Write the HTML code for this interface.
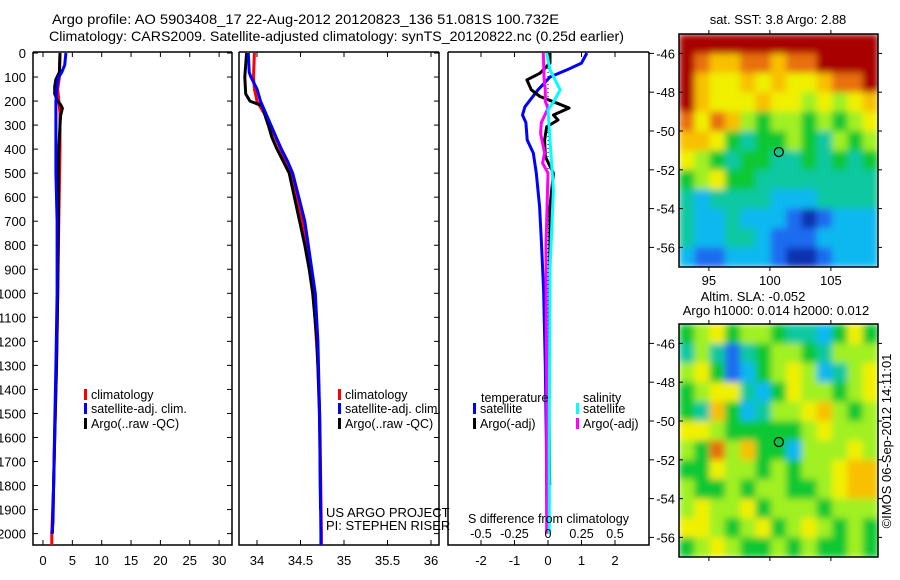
<!DOCTYPE html>
<html><head><meta charset="utf-8"><style>
html,body{margin:0;padding:0;background:#fff;}
svg{display:block;font-family:"Liberation Sans",sans-serif;}
</style></head><body>
<svg id="fig" width="900" height="580" viewBox="0 0 900 580" xmlns="http://www.w3.org/2000/svg">
<defs>
<filter id="smooth" x="0" y="0" width="1" height="1"><feGaussianBlur stdDeviation="3.5" edgeMode="duplicate"/></filter>
<clipPath id="clip1"><rect x="679" y="34" width="199" height="233"/></clipPath>
<clipPath id="clip2"><rect x="679" y="324" width="199" height="233"/></clipPath>
</defs>
<text x="52" y="24" font-size="14" textLength="507" lengthAdjust="spacingAndGlyphs">Argo profile: AO 5903408_17 22-Aug-2012 20120823_136 51.081S 100.732E</text>
<text x="49" y="41" font-size="14" textLength="575" lengthAdjust="spacingAndGlyphs">Climatology: CARS2009. Satellite-adjusted climatology: synTS_20120822.nc (0.25d earlier)</text>
</svg>
<script>
// ---- data ----
const depthTicks=[0,100,200,300,400,500,600,700,800,900,1000,1100,1200,1300,1400,1500,1600,1700,1800,1900,2000];
const tTicks=[0,5,10,15,20,25,30];
const sTicks=[34,34.5,35,35.5,36];
const dTicks=[-2,-1,0,1,2];
const dsTickLabels=["-0.5","-0.25","0","0.25","0.5"];
// Temperature panel
const tClimDepth=[0,100,150,250,400,700,1000,1300,1600,1800,2000,2050];
const tClim=[2.9,2.8,2.5,2.9,2.9,2.7,2.5,2.3,2.0,1.8,1.5,1.5];
const tSatDepth=[0,50,80,100,130,200,350,500,700,1000,1300,1550,1800,1950,2000];
const tSat=[3.9,3.7,3.2,2.7,2.4,2.2,2.2,2.2,2.4,2.4,2.2,2.0,1.8,1.7,1.5];
const tArgoDepth=[0,80,110,140,170,200,215,230,260,300,400,500,700,1000,1300,1600,1800,2000];
const tArgo=[2.9,2.8,2.2,2.0,2.0,2.5,3.0,3.3,3.0,2.9,2.7,2.6,2.6,2.5,2.3,2.0,1.8,1.6];
// Salinity panel
const sClimDepth=[0,100,150,200,250,300,400,500,600,700,800,1000,1300,1600,2000,2050];
const sClim=[33.97,33.96,33.97,34.0,34.08,34.15,34.27,34.39,34.46,34.52,34.57,34.65,34.7,34.725,34.74,34.74];
const sSatDepth=[0,80,100,150,200,250,300,350,400,450,500,600,700,800,900,1000,1200,1500,2000,2050];
const sSat=[33.9,33.91,33.93,34.0,34.04,34.1,34.16,34.22,34.28,34.35,34.41,34.48,34.55,34.59,34.63,34.67,34.7,34.72,34.735,34.735];
const sArgoDepth=[0,100,170,200,220,280,300,350,400,450,500,600,700,800,900,1000,1200,1500,1900];
const sArgo=[33.88,33.86,33.87,33.92,34.06,34.11,34.13,34.17,34.23,34.3,34.37,34.43,34.49,34.55,34.6,34.64,34.69,34.72,34.73];
// Difference panel
const dTSatDepth=[0,42,70,100,153,224,258,290,362,416,500,640,778,986,1300,1600,2000];
const dTSat=[1.16,1.0,0.57,0.06,-0.3,-0.69,-0.76,-0.66,-0.62,-0.44,-0.35,-0.25,-0.2,-0.13,-0.08,-0.05,-0.03];
const dTArgoDepth=[0,42,84,112,153,181,209,229,258,279,307,362,431,500,640,1000,1500,1800];
const dTArgo=[0.06,0.06,-0.24,-0.63,-0.5,-0.24,0.27,0.63,0.16,0.3,-0.04,-0.1,-0.08,0.16,0.06,0.05,0.03,0.05];
const dSSatDepth=[0,70,153,195,237,362,570,900,1500,2000];
const dSSat=[-0.01,0.015,0.09,0.05,0.0,0.015,0.04,0.015,0.01,0.01];
const dSArgoDepth=[0,100,153,201,230,290,335,416,458,500,800,1500,2000];
const dSArgo=[-0.035,-0.03,-0.02,-0.02,0.0,-0.05,-0.055,-0.025,-0.04,0.0,-0.015,-0.01,-0.01];
// Maps (rows lat -45..-57, cols lon 92.55..108.9), colour index 0..9
const sstGrid=[
[9,9,9,9,9,9,9,9,9,9,9,9,9],
[9,8,7,7,8,8,7,8,8,9,9,9,9],
[9,7,6,6,7,6,7,6,6,7,8,8,9],
[9,7,6,6,6,7,6,6,5,6,5,6,7],
[8,6,8,7,5,4,5,5,4,5,4,5,6],
[7,7,6,4,3,4,4,5,4,3,5,4,5],
[6,5,4,3,4,4,3,3,4,3,4,3,4],
[4,5,6,4,4,3,3,3,3,3,3,3,3],
[3,2,3,3,3,3,2,2,2,3,3,3,3],
[3,2,2,3,2,2,2,1,0,1,2,2,2],
[3,2,2,3,3,2,1,1,1,2,2,2,2],
[2,1,1,2,2,2,1,0,0,1,2,2,2]];
const slaGrid=[
[4,5,6,4,5,5,4,3,3,2,4,6,4],
[3,5,3,1,3,4,5,5,4,3,5,5,5],
[5,6,4,1,2,4,5,6,5,2,3,5,6],
[4,5,6,6,3,2,4,6,5,5,4,5,6],
[4,3,7,4,2,3,5,5,6,7,5,4,5],
[6,6,5,4,4,4,4,4,5,6,5,5,5],
[5,4,8,5,7,4,4,2,5,5,5,6,5],
[4,4,6,5,5,4,5,4,5,5,6,7,7],
[5,4,4,5,4,5,5,4,4,5,6,7,7],
[5,6,5,5,6,4,5,5,5,4,5,5,5],
[6,6,5,4,5,6,4,5,6,5,4,5,4],
[4,5,6,5,4,4,5,4,5,4,4,5,4]];
const latTicks=[-46,-48,-50,-52,-54,-56];
const lonTicks=[95,100,105];
const argoLon=[100.732];
const argoLat=[-51.081];
const palette=["#1030b0","#1a6cf0","#10b8f0","#10c8a0","#10c830","#a0f020","#f0f000","#f8c000","#e87010","#a80000"];

// ---- helpers ----
const NS="http://www.w3.org/2000/svg";
const svg=document.getElementById('fig');
function el(tag,attrs,parent){const e=document.createElementNS(NS,tag);for(const k in attrs)e.setAttribute(k,attrs[k]);(parent||svg).appendChild(e);return e;}
function txt(s,x,y,size,anchor,parent){const t=el('text',{x:x,y:y,'font-size':size,'text-anchor':anchor||'start'},parent);t.textContent=s;return t;}
const yD=d=>53+0.2403*d;
const PB=545;
const xT=v=>43+5.87*v;
const xS=v=>257+87*(v-34);
const xDT=v=>548+33.5*v;
const xDS=v=>548+134*v;

function panel(name,x0,x1){
  const g=el('g',{});
  
  
  el('polyline',{points:`${x0},52 ${x0},${PB} ${x1},${PB} ${x1},52`,fill:'none',stroke:'#000','stroke-width':1.5},g);
  el('line',{x1:x0,y1:52,x2:x1,y2:52,stroke:'#000','stroke-width':1.5},g);
  return g;
}
function series(g,name,depths,vals,xf,color,w,dash){
  const pts=depths.map((d,i)=>`${xf(vals[i]).toFixed(1)},${Math.min(yD(d),PB).toFixed(1)}`).join(' ');
  const p=el('polyline',{points:pts,fill:'none',stroke:color,'stroke-width':w||3,'stroke-linejoin':'round'},g);
  if(dash)p.setAttribute('stroke-dasharray',dash);
  
  
}
function legend(g,x,y,color,label){
  el('rect',{x:x,y:y-9,width:3,height:11,fill:color},g);
  const t=txt(label,x+7,y+1,12.5,'start',g);
  
  
}

// depth axis labels
const yax=el('g',{});


depthTicks.forEach(d=>{txt(String(d),26,yD(d)+5,13,'end',yax);});

// panel 1 temperature
const p1=panel('temperature-panel',33,232);
depthTicks.forEach(d=>{el('line',{x1:33,y1:yD(d),x2:38,y2:yD(d),stroke:'#000'},p1);el('line',{x1:227,y1:yD(d),x2:232,y2:yD(d),stroke:'#000'},p1);});
tTicks.forEach(v=>{el('line',{x1:xT(v),y1:PB,x2:xT(v),y2:PB-5,stroke:'#000'},p1);el('line',{x1:xT(v),y1:52,x2:xT(v),y2:57,stroke:'#000'},p1);txt(String(v),xT(v),565,13,'middle',p1);});
series(p1,'temp-climatology-line',tClimDepth,tClim,xT,'#f00',3);
series(p1,'temp-argo-line',tArgoDepth,tArgo,xT,'#000',3);
series(p1,'temp-satellite-line',tSatDepth,tSat,xT,'#00f',3);
legend(p1,84,398,'#f00','climatology');
legend(p1,84,412,'#00f','satellite-adj. clim.');
legend(p1,84,427,'#000','Argo(..raw -QC)');

// panel 2 salinity
const p2=panel('salinity-panel',239,439);
depthTicks.forEach(d=>{el('line',{x1:434,y1:yD(d),x2:439,y2:yD(d),stroke:'#000'},p2);});
sTicks.forEach(v=>{el('line',{x1:xS(v),y1:PB,x2:xS(v),y2:PB-5,stroke:'#000'},p2);el('line',{x1:xS(v),y1:52,x2:xS(v),y2:57,stroke:'#000'},p2);txt(String(v),xS(v),565,13,'middle',p2);});
series(p2,'sal-climatology-line',sClimDepth,sClim,xS,'#f00',3);
series(p2,'sal-argo-line',sArgoDepth,sArgo,xS,'#000',3);
series(p2,'sal-satellite-line',sSatDepth,sSat,xS,'#00f',3);
legend(p2,338,398,'#f00','climatology');
legend(p2,338,412,'#00f','satellite-adj. clim.');
legend(p2,338,427,'#000','Argo(..raw -QC)');
txt('US ARGO PROJECT',326,517,13,'start',p2);
txt('PI: STEPHEN RISER',326,530,13,'start',p2);

// panel 3 differences
const p3=panel('difference-panel',448,649);
dTicks.forEach(v=>{el('line',{x1:xDT(v),y1:PB,x2:xDT(v),y2:PB-5,stroke:'#000'},p3);el('line',{x1:xDT(v),y1:52,x2:xDT(v),y2:57,stroke:'#000'},p3);txt(String(v),xDT(v),565,13,'middle',p3);});
latTicks.forEach(l=>{const y=34+(-45-l)*19.4;el('line',{x1:649,y1:y,x2:654,y2:y,stroke:'#000'},p3);});
latTicks.forEach(l=>{const y=324+(-45-l)*19.4;el('line',{x1:649,y1:y,x2:654,y2:y,stroke:'#000'},p3);});
el('line',{x1:548,y1:60,x2:548,y2:420,stroke:'#000','stroke-dasharray':'1,3'},p3);
series(p3,'dT-satellite-line',dTSatDepth,dTSat,xDT,'#00f',3);
series(p3,'dT-argo-line',dTArgoDepth,dTArgo,xDT,'#000',3);
series(p3,'dS-argo-line',dSArgoDepth,dSArgo,xDS,'#f0f',3);
series(p3,'dS-satellite-line',dSSatDepth,dSSat,xDS,'#0ff',3);
txt('temperature',481,402,12.5,'start',p3);
txt('salinity',583,402,12.5,'start',p3);
legend(p3,473,412,'#00f','satellite');
legend(p3,473,427,'#000','Argo(-adj)');
legend(p3,576,412,'#0ff','satellite');
legend(p3,576,427,'#f0f','Argo(-adj)');
txt('S difference from climatology',468,523,12.5,'start',p3);
dTicks.forEach((v,i)=>{txt(dsTickLabels[i],xDT(v),538,12.5,'middle',p3);});

// maps
function map(name,grid,top,lonLabels,clipId){
  const g=el('g',{});
  
  
  const L=679,R=878,B=top+233,cw=(R-L)/grid[0].length,ch=(B-top)/grid.length;
  const cg=el('g',{'clip-path':`url(#${clipId})`},g);
  const fg=el('g',{filter:'url(#smooth)'},cg);
  grid.forEach((row,r)=>row.forEach((v,c)=>{
    const cell=el('rect',{x:(L+c*cw).toFixed(2),y:(top+r*ch).toFixed(2),width:(cw+0.6).toFixed(2),height:(ch+0.6).toFixed(2),fill:palette[v]},fg);
    
    
  }));
  el('rect',{x:L,y:top,width:R-L,height:B-top,fill:'none',stroke:'#000','stroke-width':1.5},g);
  const xL=lon=>L+(lon-92.55)*12.2, yL=lat=>top+(-45-lat)*19.4;
  latTicks.forEach(l=>{el('line',{x1:L,y1:yL(l),x2:L+4,y2:yL(l),stroke:'#000'},g);el('line',{x1:R,y1:yL(l),x2:R+4,y2:yL(l),stroke:'#000'},g);txt(String(l),675,yL(l)+5,13,'end',g);});
  lonTicks.forEach(l=>{el('line',{x1:xL(l),y1:B,x2:xL(l),y2:B+4,stroke:'#000'},g);el('line',{x1:xL(l),y1:top,x2:xL(l),y2:top-4,stroke:'#000'},g);if(lonLabels)txt(String(l),xL(l),B+18,13,'middle',g);});
  const m=el('circle',{cx:xL(argoLon[0]),cy:yL(argoLat[0]),r:4.5,fill:'none',stroke:'#000','stroke-width':1.3},g);
  
  
}
map('sst-map',sstGrid,34,true,'clip1');
map('sla-map',slaGrid,324,false,'clip2');
txt('sat. SST: 3.8 Argo: 2.88',778,24,13,'middle');
txt('Altim. SLA: -0.052',753,301,13,'middle');
txt('Argo h1000: 0.014 h2000: 0.012',776,315,13,'middle');
const st=txt('©IMOS 06-Sep-2012 14:11:01',0,0,13,'middle');
st.setAttribute('transform','translate(891,441) rotate(-90)');


</script>
</body></html>
